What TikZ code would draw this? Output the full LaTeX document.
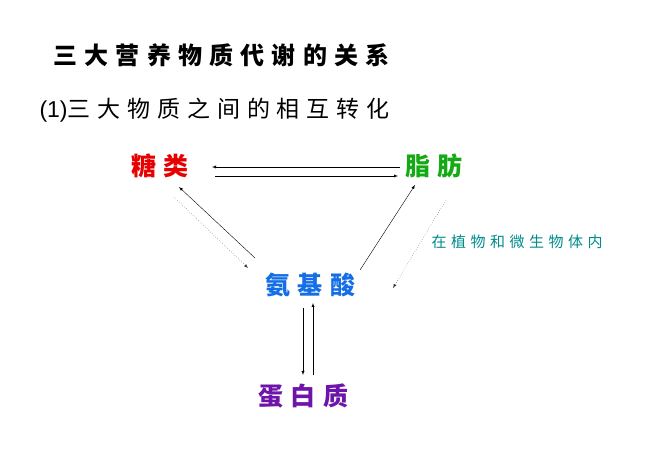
\documentclass[tikz,border=0pt]{standalone}
\usepackage{fontspec}
\setmainfont{Liberation Sans}
\newfontfamily\cjk{Noto Sans CJK SC}
\newfontfamily\cjkwide[LetterSpace=30]{Noto Sans CJK SC}
\usetikzlibrary{arrows}
\definecolor{sugarred}{RGB}{230,0,0}
\definecolor{fatgreen}{RGB}{20,170,20}
\definecolor{aminoblue}{RGB}{20,110,230}
\definecolor{protpurple}{RGB}{110,20,170}
\definecolor{noteteal}{RGB}{0,140,140}
\begin{document}
\begin{tikzpicture}[x=1pt, y=-1pt, >=latex,
	term/.style={font=\cjkwide\bfseries\fontsize{25}{27}\selectfont},
	conv/.style={->, thin},
	weak/.style={->, dotted, black!80, thin}]
	\useasboundingbox[fill=white] (0,0) rectangle (651,470);
	% headings
	\node[anchor=west, font=\cjkwide\bfseries\fontsize{24}{26}\selectfont] (title) at (50,55) {三大营养物质代谢的关系};
	\node[anchor=west, font=\fontsize{23}{25}\selectfont] (sub) at (36,110) {(1)\cjkwide 三大物质之间的相互转化};
	
	% substances
	\node[term, text=sugarred] (sugar) at (160,166) {糖类};
	\node[term, text=fatgreen] (fat) at (434,166) {脂肪};
	\node[term, text=aminoblue] (amino) at (310,285) {氨基酸};
	\node[term, text=protpurple] (prot) at (303,396) {蛋白质};
	\node[font=\cjkwide\fontsize{15}{17}\selectfont, text=noteteal] (note) at (517,242) {在植物和微生物体内};
	
	% connectors
	\coordinate (sf1) at (212,167); \coordinate (fs1) at (400,167);
	\coordinate (sf2) at (215,176); \coordinate (fs2) at (398,176);
	\draw[conv] (fs1) -- (sf1);
	\draw[conv] (sf2) -- (fs2);
	
	\coordinate (sa1) at (179,187); \coordinate (as1) at (255,258);
	\coordinate (sa2) at (174,197); \coordinate (as2) at (248,268);
	\draw[conv] (as1) -- (sa1);
	\draw[weak] (sa2) -- (as2);
	
	\coordinate (af1) at (360,270); \coordinate (fa1) at (415,185);
	\coordinate (fa2) at (446,200); \coordinate (af2) at (393,288);
	\draw[conv] (af1) -- (fa1);
	\draw[weak] (fa2) -- (af2);
	
	\coordinate (ap1) at (303,308); \coordinate (pa1) at (303,375);
	\coordinate (pa2) at (313,375); \coordinate (ap2) at (313,303);
	\draw[conv] (ap1) -- (pa1);
	\draw[conv] (pa2) -- (ap2);
\end{tikzpicture}
\end{document}
